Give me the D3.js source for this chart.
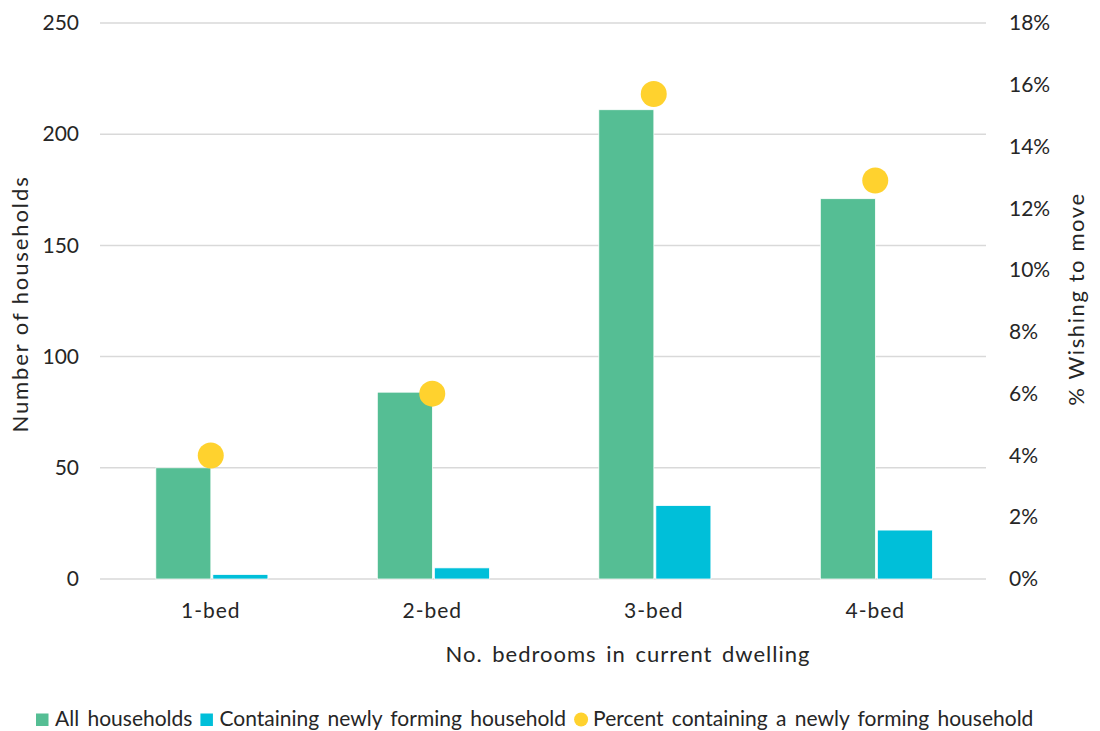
<!DOCTYPE html>
<html>
<head>
<meta charset="utf-8">
<script src="https://cdn.jsdelivr.net/npm/d3@7"></script>
<style>
  body { margin: 0; background: #fff; }
  text { font-family: Lato, "Open Sans", sans-serif; fill: #262626; }
</style>
</head>
<body>
<div id="chart"></div>
<script>
// data
var categories = ['1-bed', '2-bed', '3-bed', '4-bed'];
var all_households = [50, 84, 211, 171];
var newly_forming = [2, 5, 33, 22];
var percent_forming = [0.04, 0.06, 0.157, 0.129];
var left_ticks = [0, 50, 100, 150, 200, 250];
var right_ticks = [0, 0.02, 0.04, 0.06, 0.08, 0.10, 0.12, 0.14, 0.16, 0.18];

var chart_width = 1100;
var chart_height = 731;
var green = '#55be94';
var cyan = '#00bfd9';
var yellow = '#ffd22e';

var svg = d3.select('#chart')
    .append('svg')
    .attr('width', chart_width)
    .attr('height', chart_height);

var plot_left = 100, plot_right = 986, plot_top = 23, plot_bottom = 579;

// scales
var x_scale = d3.scaleBand()
    .domain(categories)
    .range([plot_left, plot_right])
    .padding(0);

var bw = x_scale.bandwidth();
var series_scale = d3.scaleBand()
    .domain(['all', 'new'])
    .range([bw * 0.252, bw * 0.758])
    .paddingInner(0.035);

var y_scale = d3.scaleLinear()
    .domain([0, 250])
    .range([plot_bottom, plot_top]);

var y2_scale = d3.scaleLinear()
    .domain([0, 0.18])
    .range([plot_bottom, plot_top]);

// gridlines
svg.selectAll('line.grid')
    .data(left_ticks)
    .enter()
    .append('line')
    .attr('class', 'grid')
    .attr('x1', plot_left)
    .attr('x2', plot_right)
    .attr('y1', function(d) { return y_scale(d); })
    .attr('y2', function(d) { return y_scale(d); })
    .attr('stroke', '#d9d9d9')
    .attr('stroke-width', 1.5);

// left axis
var y_axis = d3.axisLeft(y_scale).tickValues(left_ticks).tickSize(0).tickPadding(0);
svg.append('g')
    .attr('transform', 'translate(79,0)')
    .call(y_axis)
    .call(function(g) { g.select('.domain').remove(); })
    .selectAll('text')
    .attr('font-size', 21)
    .attr('fill', '#262626');

// right axis
var y2_axis = d3.axisRight(y2_scale).tickValues(right_ticks).tickSize(0).tickPadding(0)
    .tickFormat(d3.format('.0%'));
svg.append('g')
    .attr('transform', 'translate(1009,0)')
    .call(y2_axis)
    .call(function(g) { g.select('.domain').remove(); })
    .selectAll('text')
    .attr('font-size', 21)
    .attr('fill', '#262626');

// x axis labels
var x_axis = d3.axisBottom(x_scale).tickSize(0).tickPadding(0);
svg.append('g')
    .attr('transform', 'translate(0,' + (plot_bottom + 24) + ')')
    .call(x_axis)
    .call(function(g) { g.select('.domain').remove(); })
    .selectAll('text')
    .attr('font-size', 21)
    .attr('letter-spacing', 1)
    .attr('fill', '#262626');

// bars
var groups = svg.selectAll('g.cat')
    .data(categories)
    .enter()
    .append('g')
    .attr('class', 'cat')
    .attr('transform', function(d) { return 'translate(' + x_scale(d) + ',0)'; });

groups.append('rect')
    .attr('x', series_scale('all'))
    .attr('y', function(d, i) { return y_scale(all_households[i]); })
    .attr('width', series_scale.bandwidth())
    .attr('height', function(d, i) { return plot_bottom - y_scale(all_households[i]); })
    .attr('fill', green)
    .attr('stroke', '#fff')
    .attr('stroke-width', 0.75);

groups.append('rect')
    .attr('x', series_scale('new'))
    .attr('y', function(d, i) { return y_scale(newly_forming[i]); })
    .attr('width', series_scale.bandwidth())
    .attr('height', function(d, i) { return plot_bottom - y_scale(newly_forming[i]); })
    .attr('fill', cyan)
    .attr('stroke', '#fff')
    .attr('stroke-width', 0.75);

// dots
svg.selectAll('circle.pct')
    .data(percent_forming)
    .enter()
    .append('circle')
    .attr('class', 'pct')
    .attr('cx', function(d, i) { return x_scale(categories[i]) + bw / 2; })
    .attr('cy', function(d) { return y2_scale(d); })
    .attr('r', 13)
    .attr('fill', yellow);

// axis titles
svg.append('text')
    .text('Number of households')
    .attr('transform', 'translate(28,304) rotate(-90)')
    .attr('text-anchor', 'middle')
    .attr('font-size', 22)
    .attr('letter-spacing', 1.9);

svg.append('text')
    .text('% Wishing to move')
    .attr('transform', 'translate(1084,299) rotate(-90)')
    .attr('text-anchor', 'middle')
    .attr('font-size', 22)
    .attr('letter-spacing', 1.6);

svg.append('text')
    .text('No. bedrooms in current dwelling')
    .attr('x', 628)
    .attr('y', 662)
    .attr('text-anchor', 'middle')
    .attr('font-size', 22)
    .attr('letter-spacing', 1)
    .attr('word-spacing', 3);

// legend
var legend_items = [
    { label: 'All households', color: green, shape: 'rect' },
    { label: 'Containing newly forming household', color: cyan, shape: 'rect' },
    { label: 'Percent containing a newly forming household', color: yellow, shape: 'circle' }
];
var legend = svg.append('g').attr('transform', 'translate(0,726)');
var lx = 36;
legend_items.forEach(function(item) {
    if (item.shape === 'rect') {
        legend.append('rect')
            .attr('x', lx).attr('y', -12.5).attr('width', 12.5).attr('height', 12.5)
            .attr('fill', item.color);
    } else {
        legend.append('circle')
            .attr('cx', lx + 7).attr('cy', -6.5).attr('r', 7)
            .attr('fill', item.color);
    }
    var t = legend.append('text')
        .text(item.label)
        .attr('x', lx + 19)
        .attr('y', 0)
        .attr('font-size', 21)
        .attr('word-spacing', 3);
    lx += 19 + t.node().getComputedTextLength() + 8;
});
</script>
</body>
</html>
